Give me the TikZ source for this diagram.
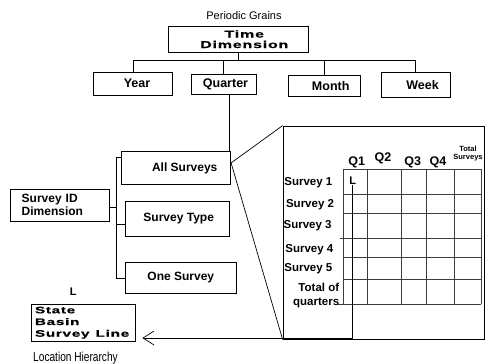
\documentclass[tikz,border=0pt]{standalone}
\usepackage{fontspec}
\setmainfont{Liberation Sans}
\newfontfamily\wideb[FakeStretch=1.6,LetterSpace=8,FakeBold=0.6]{Liberation Sans Bold}
\newfontfamily\narr[FakeStretch=0.78]{Liberation Sans}
\usetikzlibrary{arrows.meta}
\definecolor{gry}{RGB}{60,60,60}

\begin{document}
\begin{tikzpicture}[x=1pt,y=-1pt,line width=0.7pt,
  box/.style={draw,line width=0.8pt,inner sep=0pt,font=\fontsize{12.5}{14}\selectfont\bfseries},
  sbox/.style={box,font=\fontsize{12}{12.4}\selectfont\bfseries},
  rowl/.style={anchor=west,inner sep=0pt,font=\fontsize{11.5}{13}\selectfont\bfseries},
  ql/.style={inner sep=0pt,font=\fontsize{12.5}{14}\selectfont\bfseries}]
\useasboundingbox (0,0) rectangle (490,364);

\node[inner sep=0pt,font=\fontsize{11}{13}\selectfont] (grains) at (244,15.7) {Periodic Grains};
\node[box,minimum width=140,minimum height=26.3,align=center,font=\fontsize{10}{10.5}\selectfont\wideb] (time) at (238.3,39.2) {\hspace*{12pt}Time\\\hspace*{12pt}Dimension};

\node[box,minimum width=79.4,minimum height=22.7] (year) at (133,83.7) {\hspace*{8pt}Year};
\node[box,minimum width=65,minimum height=20] (quarter) at (223.5,84) {\hspace*{4pt}Quarter};
\node[box,minimum width=71.7,minimum height=21] (month) at (324.2,86.2) {\hspace*{13pt}Month};
\node[box,minimum width=69,minimum height=25] (week) at (415.5,84.8) {\hspace*{14pt}Week};

\draw (time.south) -- ++(0,7.3) coordinate (bus);
\draw (year.north) -- (year.north |- bus) -- (week.north |- bus) -- (week.north);
\draw (quarter.north) -- (quarter.north |- bus);
\draw (month.north) -- (month.north |- bus);

\node[sbox,minimum width=109,minimum height=32.3] (allsurv) at (176.2,167.9) {\hspace*{17pt}All Surveys};
\node[sbox,minimum width=104.3,minimum height=35] (survtype) at (177.2,218.5) {\hspace*{3pt}Survey Type};
\node[sbox,minimum width=111.7,minimum height=30.6] (onesurv) at (180.8,278) {One Survey};
\node[sbox,minimum width=98.6,minimum height=32,align=left,text width=76.6,inner xsep=11] (surveyid) at (60,205) {Survey ID\\Dimension};

\draw ([xshift=5.8]quarter.south) -- ([xshift=5.8]quarter.south |- allsurv.north);

\coordinate (spine) at (116,0);
\draw ([yshift=10.6]allsurv.west) -| (onesurv.west -| spine) -- (onesurv.west);
\draw ([yshift=-5.8]survtype.west) -- ([yshift=-5.8]survtype.west -| spine);
\draw ([yshift=-2.3]surveyid.east) -- ([yshift=-2.3]surveyid.east -| spine);

\node[draw,line width=0.8pt,minimum width=201,minimum height=213,inner sep=0pt] (frame) at (383.5,232.5) {};
\draw ([yshift=5]allsurv.east) -- (frame.north west);
\draw ([yshift=5]allsurv.east) -- (frame.south west);

\foreach \x in {343,367,401,426,454,481}
  \draw[gry] (\x,169) -- (\x,304);
\foreach \y in {169,194,213,238,257,279,304}
  \draw[gry] (343,\y) -- (481,\y);
\draw[gry] (340,238) -- (343,238);
\draw[gry] (338,304) -- (343,304);

\node[ql] (q1) at (356.7,162.7) {Q1};
\node[ql] (q2) at (383,158.3) {Q2};
\node[ql] (q3) at (412.7,162) {Q3};
\node[ql] (q4) at (438,162) {Q4};
\node[inner sep=0pt,align=center,font=\fontsize{7.5}{8.7}\selectfont\bfseries] (tot) at (468,153.7) {Total\\Surveys};

\node[rowl] (s1) at (284,182.7) {Survey 1};
\node[rowl] (s2) at (285.7,205) {Survey 2};
\node[rowl] (s3) at (283.3,226) {Survey 3};
\node[rowl] (s4) at (285,249.3) {Survey 4};
\node[rowl] (s5) at (284,268.3) {Survey 5};
\node[inner sep=0pt,anchor=east,align=right,font=\fontsize{11.5}{14}\selectfont\bfseries] (totq) at (339.5,296) {Total of\\quarters};

\node[inner sep=0.5pt,font=\fontsize{11}{13}\selectfont\bfseries] (gl) at (352.7,180.7) {L};
\node[inner sep=0pt,font=\fontsize{11}{13}\selectfont\bfseries] (ll) at (73.3,291.7) {L};
\node[box,minimum width=104,minimum height=36.7,text width=96,inner xsep=4,align=left,font=\fontsize{9.5}{11.7}\selectfont\wideb] (loc) at (83,322.7) {State\\Basin\\Survey\hspace{3pt} Line};
\node[inner sep=0pt,font=\fontsize{13}{15}\selectfont\narr] (lochier) at (75.5,358) {Location Hierarchy};

\draw[-{Straight Barb[length=11pt,width=14pt]}] (gl.south) |- ([xshift=7,yshift=-15.3]loc.east);
\end{tikzpicture}
\end{document}
